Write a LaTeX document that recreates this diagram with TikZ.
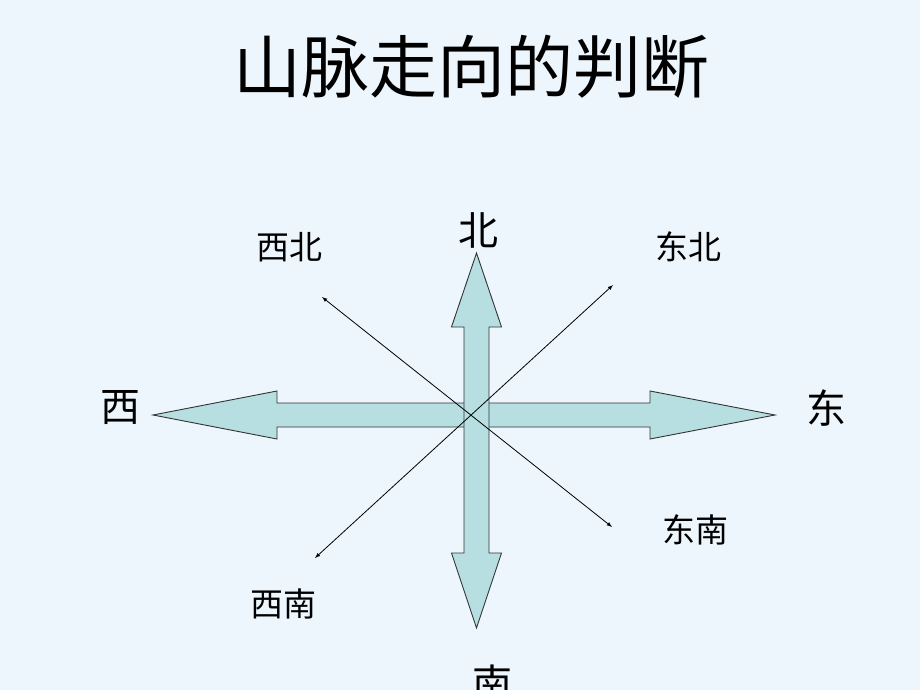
\documentclass[tikz,border=0pt]{standalone}
\usepackage{fontspec}
\newfontfamily\cjk{Noto Sans CJK SC}
\definecolor{bgblue}{RGB}{238,246,253}
\definecolor{arrowfill}{RGB}{183,222,224}
\tikzset{
  bigarrow/.style={draw=black!80,fill=arrowfill,line width=0.9pt,line join=miter},
  thinarrow/.style={draw,line width=0.8pt,latex-latex},
  dirlabel/.style={font=\cjk\fontsize{40}{40}\selectfont,inner sep=0pt},
  sublabel/.style={font=\cjk\fontsize{33}{33}\selectfont,inner sep=0pt}
}
\begin{document}
\begin{tikzpicture}[x=1pt,y=-1pt]
\useasboundingbox[fill=bgblue] (0,0) rectangle (920,690);

% title
\node[font=\cjk\fontsize{68}{68}\selectfont,inner sep=0pt] (title) at (471,67) {山脉走向的判断};

% west-east arrow
\path[bigarrow] (153,415) -- (277,391) -- (277,403) -- (650,403) -- (650,391)
  -- (775,415) -- (650,439) -- (650,427) -- (277,427) -- (277,439) -- cycle;

% north-south arrow
\path[bigarrow] (476.5,253) -- (501.5,327) -- (489,327) -- (489,553) -- (501.5,553)
  -- (476.5,628) -- (451.5,553) -- (464,553) -- (464,327) -- (451.5,327) -- cycle;

% diagonals
\coordinate (nw) at (322,297);
\coordinate (se) at (612,527);
\coordinate (ne) at (613,285);
\coordinate (sw) at (315,558);
\draw[thinarrow] (nw) -- (se);
\draw[thinarrow] (ne) -- (sw);

% labels
\node[dirlabel] (north) at (478,230) {北};
\node[dirlabel] (south) at (492,683) {南};
\node[dirlabel] (west) at (120,408) {西};
\node[dirlabel] (east) at (826,408) {东};
\node[sublabel] (northwest) at (289,247) {西北};
\node[sublabel] (northeast) at (688,247) {东北};
\node[sublabel] (southeast) at (695,530) {东南};
\node[sublabel] (southwest) at (283,604) {西南};
\end{tikzpicture}
\end{document}
